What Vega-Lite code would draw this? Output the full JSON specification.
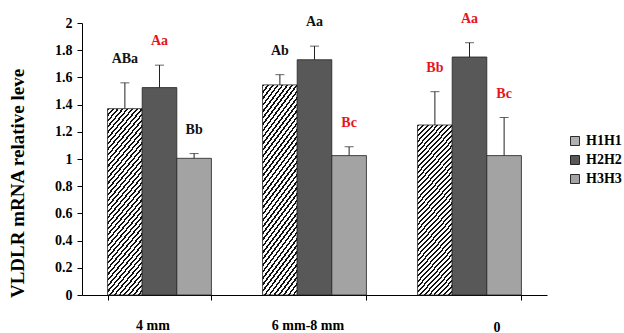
{
  "$schema": "https://vega.github.io/schema/vega-lite/v6.json",
  "width": 465,
  "height": 272,
  "autosize": "none",
  "padding": {"left": 82, "top": 23, "right": 77, "bottom": 38},
  "background": "white",
  "config": {
    "view": {"stroke": null}, "font": "Liberation Serif",
    "axisY": {
      "grid": false, "tickColor": "#000", "domainColor": "#000", "tickSize": 5, "labelPadding": 5, "labelOverlap": false,
      "labelFont": "Liberation Serif", "labelFontSize": 14, "labelFontWeight": "bold", "labelColor": "#000",
      "titleFont": "Liberation Serif", "titleFontSize": 19, "titleFontWeight": "bold", "titleColor": "#000",
      "titleX": -65, "titleY": 160, "titleBaseline": "middle"
    }
  },
  "data": {"values": [
    {"dia": "4 mm", "geno": "H1H1", "value": 1.37, "err": 1.56, "label": "ABa", "hi": false},
    {"dia": "4 mm", "geno": "H2H2", "value": 1.525, "err": 1.69, "label": "Aa", "hi": true},
    {"dia": "4 mm", "geno": "H3H3", "value": 1.005, "err": 1.04, "label": "Bb", "hi": false},
    {"dia": "6 mm-8 mm", "geno": "H1H1", "value": 1.545, "err": 1.62, "label": "Ab", "hi": false},
    {"dia": "6 mm-8 mm", "geno": "H2H2", "value": 1.73, "err": 1.83, "label": "Aa", "hi": false},
    {"dia": "6 mm-8 mm", "geno": "H3H3", "value": 1.025, "err": 1.09, "label": "Bc", "hi": true},
    {"dia": "0", "geno": "H1H1", "value": 1.25, "err": 1.495, "label": "Bb", "hi": true},
    {"dia": "0", "geno": "H2H2", "value": 1.75, "err": 1.855, "label": "Aa", "hi": true},
    {"dia": "0", "geno": "H3H3", "value": 1.025, "err": 1.305, "label": "Bc", "hi": true}
  ]},
  "encoding": {
    "x": {
      "field": "dia", "type": "nominal", "sort": ["4 mm", "6 mm-8 mm", "0"],
      "scale": {"paddingInner": 0.33, "paddingOuter": 0.165},
      "axis": {
        "title": null, "labelAngle": 0, "tickBand": "extent",
        "labelFont": "Liberation Serif", "labelFontSize": 14, "labelFontWeight": "bold", "labelColor": "#000",
        "tickColor": "#000", "domainColor": "#000", "tickSize": 5, "grid": false,
        "labelOffset": {"condition": {"test": "datum.value === '0'", "value": 27}, "value": -7},
        "labelPadding": {"condition": {"test": "datum.value === '0'", "value": 20}, "value": 18}
      }
    },
    "xOffset": {"field": "geno", "type": "nominal", "sort": ["H1H1", "H2H2", "H3H3"], "scale": {"paddingInner": 0, "paddingOuter": 0}}
  },
  "layer": [
    {
      "mark": {"type": "bar", "stroke": "#222", "strokeWidth": 0.8},
      "encoding": {
        "y": {
          "field": "value", "type": "quantitative", "title": "VLDLR mRNA relative leve",
          "scale": {"domain": [0, 2], "nice": false},
          "axis": {"values": [0, 0.2, 0.4, 0.6, 0.8, 1, 1.2, 1.4, 1.6, 1.8, 2], "format": ".1~f"}
        },
        "color": {
          "condition": {"test": "datum.geno === 'H1H1'", "value": {
            "gradient": "linear", "x1": 0, "y1": 0, "x2": 0.256, "y2": 1.164,
            "stops": [
              {"offset": 0, "color": "#111"}, {"offset": 0.01, "color": "#111"}, {"offset": 0.01, "color": "#fff"}, {"offset": 0.025, "color": "#fff"},
              {"offset": 0.025, "color": "#111"}, {"offset": 0.035, "color": "#111"}, {"offset": 0.035, "color": "#fff"}, {"offset": 0.05, "color": "#fff"},
              {"offset": 0.05, "color": "#111"}, {"offset": 0.06, "color": "#111"}, {"offset": 0.06, "color": "#fff"}, {"offset": 0.075, "color": "#fff"},
              {"offset": 0.075, "color": "#111"}, {"offset": 0.085, "color": "#111"}, {"offset": 0.085, "color": "#fff"}, {"offset": 0.1, "color": "#fff"},
              {"offset": 0.1, "color": "#111"}, {"offset": 0.11, "color": "#111"}, {"offset": 0.11, "color": "#fff"}, {"offset": 0.125, "color": "#fff"},
              {"offset": 0.125, "color": "#111"}, {"offset": 0.135, "color": "#111"}, {"offset": 0.135, "color": "#fff"}, {"offset": 0.15, "color": "#fff"},
              {"offset": 0.15, "color": "#111"}, {"offset": 0.16, "color": "#111"}, {"offset": 0.16, "color": "#fff"}, {"offset": 0.175, "color": "#fff"},
              {"offset": 0.175, "color": "#111"}, {"offset": 0.185, "color": "#111"}, {"offset": 0.185, "color": "#fff"}, {"offset": 0.2, "color": "#fff"},
              {"offset": 0.2, "color": "#111"}, {"offset": 0.21, "color": "#111"}, {"offset": 0.21, "color": "#fff"}, {"offset": 0.225, "color": "#fff"},
              {"offset": 0.225, "color": "#111"}, {"offset": 0.235, "color": "#111"}, {"offset": 0.235, "color": "#fff"}, {"offset": 0.25, "color": "#fff"},
              {"offset": 0.25, "color": "#111"}, {"offset": 0.26, "color": "#111"}, {"offset": 0.26, "color": "#fff"}, {"offset": 0.275, "color": "#fff"},
              {"offset": 0.275, "color": "#111"}, {"offset": 0.285, "color": "#111"}, {"offset": 0.285, "color": "#fff"}, {"offset": 0.3, "color": "#fff"},
              {"offset": 0.3, "color": "#111"}, {"offset": 0.31, "color": "#111"}, {"offset": 0.31, "color": "#fff"}, {"offset": 0.325, "color": "#fff"},
              {"offset": 0.325, "color": "#111"}, {"offset": 0.335, "color": "#111"}, {"offset": 0.335, "color": "#fff"}, {"offset": 0.35, "color": "#fff"},
              {"offset": 0.35, "color": "#111"}, {"offset": 0.36, "color": "#111"}, {"offset": 0.36, "color": "#fff"}, {"offset": 0.375, "color": "#fff"},
              {"offset": 0.375, "color": "#111"}, {"offset": 0.385, "color": "#111"}, {"offset": 0.385, "color": "#fff"}, {"offset": 0.4, "color": "#fff"},
              {"offset": 0.4, "color": "#111"}, {"offset": 0.41, "color": "#111"}, {"offset": 0.41, "color": "#fff"}, {"offset": 0.425, "color": "#fff"},
              {"offset": 0.425, "color": "#111"}, {"offset": 0.435, "color": "#111"}, {"offset": 0.435, "color": "#fff"}, {"offset": 0.45, "color": "#fff"},
              {"offset": 0.45, "color": "#111"}, {"offset": 0.46, "color": "#111"}, {"offset": 0.46, "color": "#fff"}, {"offset": 0.475, "color": "#fff"},
              {"offset": 0.475, "color": "#111"}, {"offset": 0.485, "color": "#111"}, {"offset": 0.485, "color": "#fff"}, {"offset": 0.5, "color": "#fff"},
              {"offset": 0.5, "color": "#111"}, {"offset": 0.51, "color": "#111"}, {"offset": 0.51, "color": "#fff"}, {"offset": 0.525, "color": "#fff"},
              {"offset": 0.525, "color": "#111"}, {"offset": 0.535, "color": "#111"}, {"offset": 0.535, "color": "#fff"}, {"offset": 0.55, "color": "#fff"},
              {"offset": 0.55, "color": "#111"}, {"offset": 0.56, "color": "#111"}, {"offset": 0.56, "color": "#fff"}, {"offset": 0.575, "color": "#fff"},
              {"offset": 0.575, "color": "#111"}, {"offset": 0.585, "color": "#111"}, {"offset": 0.585, "color": "#fff"}, {"offset": 0.6, "color": "#fff"},
              {"offset": 0.6, "color": "#111"}, {"offset": 0.61, "color": "#111"}, {"offset": 0.61, "color": "#fff"}, {"offset": 0.625, "color": "#fff"},
              {"offset": 0.625, "color": "#111"}, {"offset": 0.635, "color": "#111"}, {"offset": 0.635, "color": "#fff"}, {"offset": 0.65, "color": "#fff"},
              {"offset": 0.65, "color": "#111"}, {"offset": 0.66, "color": "#111"}, {"offset": 0.66, "color": "#fff"}, {"offset": 0.675, "color": "#fff"},
              {"offset": 0.675, "color": "#111"}, {"offset": 0.685, "color": "#111"}, {"offset": 0.685, "color": "#fff"}, {"offset": 0.7, "color": "#fff"},
              {"offset": 0.7, "color": "#111"}, {"offset": 0.71, "color": "#111"}, {"offset": 0.71, "color": "#fff"}, {"offset": 0.725, "color": "#fff"},
              {"offset": 0.725, "color": "#111"}, {"offset": 0.735, "color": "#111"}, {"offset": 0.735, "color": "#fff"}, {"offset": 0.75, "color": "#fff"},
              {"offset": 0.75, "color": "#111"}, {"offset": 0.76, "color": "#111"}, {"offset": 0.76, "color": "#fff"}, {"offset": 0.775, "color": "#fff"},
              {"offset": 0.775, "color": "#111"}, {"offset": 0.785, "color": "#111"}, {"offset": 0.785, "color": "#fff"}, {"offset": 0.8, "color": "#fff"},
              {"offset": 0.8, "color": "#111"}, {"offset": 0.81, "color": "#111"}, {"offset": 0.81, "color": "#fff"}, {"offset": 0.825, "color": "#fff"},
              {"offset": 0.825, "color": "#111"}, {"offset": 0.835, "color": "#111"}, {"offset": 0.835, "color": "#fff"}, {"offset": 0.85, "color": "#fff"},
              {"offset": 0.85, "color": "#111"}, {"offset": 0.86, "color": "#111"}, {"offset": 0.86, "color": "#fff"}, {"offset": 0.875, "color": "#fff"},
              {"offset": 0.875, "color": "#111"}, {"offset": 0.885, "color": "#111"}, {"offset": 0.885, "color": "#fff"}, {"offset": 0.9, "color": "#fff"},
              {"offset": 0.9, "color": "#111"}, {"offset": 0.91, "color": "#111"}, {"offset": 0.91, "color": "#fff"}, {"offset": 0.925, "color": "#fff"},
              {"offset": 0.925, "color": "#111"}, {"offset": 0.935, "color": "#111"}, {"offset": 0.935, "color": "#fff"}, {"offset": 0.95, "color": "#fff"},
              {"offset": 0.95, "color": "#111"}, {"offset": 0.96, "color": "#111"}, {"offset": 0.96, "color": "#fff"}, {"offset": 0.975, "color": "#fff"},
              {"offset": 0.975, "color": "#111"}, {"offset": 0.985, "color": "#111"}, {"offset": 0.985, "color": "#fff"}, {"offset": 1, "color": "#fff"}
            ]
          }},
          "field": "geno", "type": "nominal",
          "scale": {"domain": ["H1H1", "H2H2", "H3H3"], "range": ["#b0b0b0", "#585858", "#a3a3a3"]},
          "legend": {
            "orient": "none", "legendX": 486, "legendY": 111, "title": null,
            "symbolType": "square", "symbolSize": 81, "symbolStrokeColor": "#000", "symbolStrokeWidth": 0.8,
            "labelFont": "Liberation Serif", "labelFontSize": 14, "labelFontWeight": "bold", "labelColor": "#000",
            "labelOffset": 4, "rowPadding": 5
          }
        }
      }
    },
    {
      "mark": {"type": "rule", "color": "#222", "strokeWidth": 1},
      "encoding": {
        "y": {"field": "err", "type": "quantitative", "title": "VLDLR mRNA relative leve",
              "axis": {"values": [0, 0.2, 0.4, 0.6, 0.8, 1, 1.2, 1.4, 1.6, 1.8, 2], "format": ".1~f"}},
        "y2": {"field": "value"}
      }
    },
    {
      "mark": {"type": "tick", "color": "#222", "size": 9, "thickness": 1},
      "encoding": {
        "y": {"field": "err", "type": "quantitative", "title": "VLDLR mRNA relative leve",
              "axis": {"values": [0, 0.2, 0.4, 0.6, 0.8, 1, 1.2, 1.4, 1.6, 1.8, 2], "format": ".1~f"}}
      }
    },
    {
      "mark": {"type": "text", "font": "Liberation Serif", "fontSize": 14, "fontWeight": "bold", "baseline": "middle", "dy": -24},
      "encoding": {
        "y": {"field": "err", "type": "quantitative", "title": "VLDLR mRNA relative leve",
              "axis": {"values": [0, 0.2, 0.4, 0.6, 0.8, 1, 1.2, 1.4, 1.6, 1.8, 2], "format": ".1~f"}},
        "text": {"field": "label"},
        "color": {"condition": {"test": "datum.hi", "value": "#e8141b"}, "value": "#111"}
      }
    }
  ]
}
